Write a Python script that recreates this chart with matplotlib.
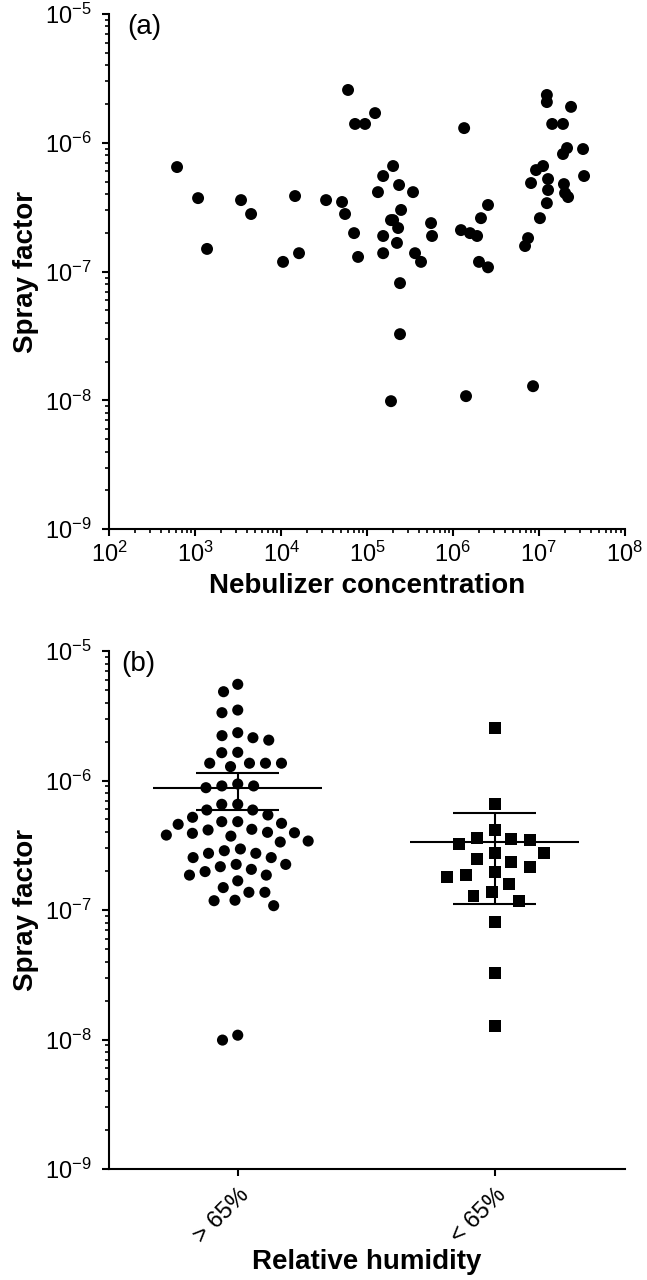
import numpy as np
import matplotlib
matplotlib.use("Agg")
import matplotlib.pyplot as plt
from matplotlib.ticker import LogLocator, NullFormatter

plt.rcParams['font.family'] = ['Liberation Sans', 'DejaVu Sans']
plt.rcParams['mathtext.default'] = 'regular'

# panel (a): nebulizer concentration vs spray factor
nebulizer_conc = [614, 1079, 1372, 3412, 4467, 10520, 14520, 16150, 33340, 51170,
                  55450, 60100, 70600, 72500, 78600, 94800, 1.24e5, 1.34e5, 1.54e5, 1.54e5,
                  1.54e5, 2.01e5, 2.36e5, 1.90e5, 2.01e5, 2.30e5, 2.49e5, 2.23e5, 2.42e5, 2.42e5,
                  1.90e5, 3.43e5, 3.62e5, 4.25e5, 5.56e5, 5.71e5, 1.24e6, 1.35e6, 1.42e6, 1.58e6,
                  1.91e6, 2.12e6, 2.56e6, 2.01e6, 2.56e6, 6.91e6, 7.49e6, 8.56e6, 1.03e7, 8.11e6,
                  9.27e6, 1.12e7, 1.28e7, 1.28e7, 1.24e7, 1.24e7, 1.24e7, 1.43e7, 1.91e7, 2.37e7,
                  2.13e7, 1.91e7, 3.27e7, 3.36e7, 1.96e7, 2.02e7, 2.19e7]
spray_a = [6.48e-7, 3.72e-7, 1.50e-7, 3.59e-7, 2.80e-7, 1.19e-7, 3.86e-7, 1.39e-7, 3.59e-7, 3.47e-7,
           2.80e-7, 2.57e-6, 1.99e-7, 1.40e-6, 1.30e-7, 1.40e-6, 1.70e-6, 4.14e-7, 5.52e-7, 1.89e-7,
           1.39e-7, 6.60e-7, 4.70e-7, 2.51e-7, 2.51e-7, 2.18e-7, 3.01e-7, 1.67e-7, 8.14e-8, 3.27e-8,
           9.87e-9, 4.14e-7, 1.39e-7, 1.19e-7, 2.38e-7, 1.89e-7, 2.10e-7, 1.30e-6, 1.08e-8, 1.99e-7,
           1.89e-7, 2.60e-7, 3.29e-7, 1.19e-7, 1.08e-7, 1.58e-7, 1.82e-7, 1.29e-8, 2.60e-7, 4.87e-7,
           6.14e-7, 6.60e-7, 5.23e-7, 4.30e-7, 3.40e-7, 2.35e-6, 2.07e-6, 1.40e-6, 1.40e-6, 1.90e-6,
           9.10e-7, 8.18e-7, 8.94e-7, 5.52e-7, 4.78e-7, 4.07e-7, 3.79e-7]

# panel (b): spray factor by relative humidity
rh_labels = ['> 65%', '< 65%']
spray_high_rh = [5.53e-6, 4.85e-6, 3.50e-6, 3.34e-6, 2.22e-6, 2.05e-6, 2.14e-6, 2.34e-6, 1.64e-6, 1.65e-6,
                 1.36e-6, 1.36e-6, 1.28e-6, 1.36e-6, 1.36e-6, 9.08e-7, 8.80e-7, 9.08e-7, 9.40e-7, 6.55e-7,
                 5.92e-7, 5.42e-7, 5.92e-7, 6.55e-7, 4.81e-7, 4.59e-7, 4.20e-7, 3.98e-7, 3.79e-7, 3.72e-7,
                 3.41e-7, 3.91e-7, 3.35e-7, 3.95e-7, 4.15e-7, 4.67e-7, 4.81e-7, 5.20e-7, 2.96e-7, 2.74e-7,
                 2.54e-7, 2.25e-7, 2.54e-7, 2.74e-7, 2.87e-7, 2.25e-7, 2.06e-7, 1.86e-7, 1.68e-7, 1.86e-7,
                 1.98e-7, 2.16e-7, 1.49e-7, 1.37e-7, 1.19e-7, 1.08e-7, 1.18e-7, 1.37e-7, 9.9e-9, 1.08e-8]
spray_low_rh = [2.53e-6, 6.59e-7, 4.15e-7, 3.53e-7, 3.47e-7, 3.24e-7, 3.58e-7, 2.77e-7, 2.77e-7, 2.46e-7,
                2.36e-7, 2.16e-7, 1.79e-7, 1.86e-7, 1.95e-7, 1.58e-7, 1.37e-7, 1.18e-7, 1.29e-7, 8.13e-8,
                3.24e-8, 1.28e-8]
rh_mean = [8.80e-7, 3.37e-7]
rh_err_low = [5.92e-7, 1.107e-7]
rh_err_high = [1.137e-6, 5.64e-7]

conc_ticks = [1e2, 1e3, 1e4, 1e5, 1e6, 1e7, 1e8]
spray_ticks = [1e-9, 1e-8, 1e-7, 1e-6, 1e-5]

LW = 1.5


def style_axis(ax):
    for s in ['top', 'right']:
        ax.spines[s].set_visible(False)
    for s in ['left', 'bottom']:
        ax.spines[s].set_linewidth(LW)
    ax.tick_params(which='major', length=5, width=LW, labelsize=17)
    ax.tick_params(which='minor', length=3, width=1.2)
    ax.tick_params(axis='y', which='major', pad=8)
    ax.tick_params(axis='x', which='major', pad=4)


def log_axis(axis, ticks):
    axis.set_ticks(ticks)
    axis.set_minor_locator(LogLocator(base=10, subs=np.arange(2, 10), numticks=100))
    axis.set_minor_formatter(NullFormatter())


def swarm_x(values, ax, center, diam):
    # beeswarm layout in pixel space: each point goes as close to the centre as it can
    vals = np.asarray(values)
    pix = ax.transData.transform(np.column_stack([np.full(len(vals), center), vals]))
    x0 = pix[0, 0]
    ys = pix[:, 1]
    px, py = [], []
    offs = np.zeros(len(vals))
    for i in np.argsort(-ys):
        y = ys[i]
        cands = [0.0]
        for a, b in zip(px, py):
            dy = abs(y - b)
            if dy < diam:
                dx = np.sqrt(diam ** 2 - dy ** 2)
                cands += [a - dx, a + dx]
        cands.sort(key=abs)
        for c in cands:
            if all((c - a) ** 2 + (y - b) ** 2 >= diam ** 2 - 1e-6 for a, b in zip(px, py)):
                break
        px.append(c)
        py.append(y)
        offs[i] = c
    back = ax.transData.inverted().transform(np.column_stack([x0 + offs, ys]))
    return back[:, 0]


fig = plt.figure(figsize=(6.47, 12.8), dpi=100)

# ---- (a)
ax1 = fig.add_axes([0.169, 0.5865, 0.7966, 0.4026])
ax1.scatter(nebulizer_conc, spray_a, s=8.6 ** 2, color='black', edgecolors='none', zorder=3)
ax1.set_xscale('log')
ax1.set_yscale('log')
log_axis(ax1.xaxis, conc_ticks)
log_axis(ax1.yaxis, spray_ticks)
ax1.set_xlim(1e2, 1e8)
ax1.set_ylim(1e-9, 1e-5)
style_axis(ax1)
ax1.set_xlabel('Nebulizer concentration', fontsize=20, fontweight='bold', labelpad=4)
ax1.set_ylabel('Spray factor', fontsize=20, fontweight='bold', labelpad=4)
ax1.text(0.034, 1.0, '(a)', transform=ax1.transAxes, fontsize=20, va='top', ha='left')

# ---- (b)
ax2 = fig.add_axes([0.169, 0.0867, 0.7966, 0.4047])
ax2.set_yscale('log')
log_axis(ax2.yaxis, spray_ticks)
ax2.set_ylim(1e-9, 1e-5)
ax2.set_xlim(-0.5, 1.507)

x_hi = swarm_x(spray_high_rh, ax2, 0, 16.0)
x_lo = swarm_x(spray_low_rh, ax2, 1, 19.0)
ax2.scatter(x_hi, spray_high_rh, s=8 ** 2, marker='o', color='black', edgecolors='none', zorder=3)
ax2.scatter(x_lo, spray_low_rh, s=8.6 ** 2, marker='s', color='black', edgecolors='none', zorder=3)

for i in range(2):
    ax2.hlines(rh_mean[i], i - 0.33, i + 0.33, color='black', lw=LW, zorder=4)
    ax2.vlines(i, rh_err_low[i], rh_err_high[i], color='black', lw=LW, zorder=4)
    ax2.hlines([rh_err_low[i], rh_err_high[i]], i - 0.162, i + 0.162, color='black', lw=LW, zorder=4)

ax2.set_xticks([0, 1])
ax2.set_xticklabels(rh_labels, rotation=45, ha='right', rotation_mode='anchor')
style_axis(ax2)
ax2.tick_params(axis='x', pad=6)
ax2.set_xlabel('Relative humidity', fontsize=20, fontweight='bold', labelpad=1)
ax2.set_ylabel('Spray factor', fontsize=20, fontweight='bold', labelpad=4)
ax2.text(0.024, 1.0, '(b)', transform=ax2.transAxes, fontsize=20, va='top', ha='left')

fig.savefig('out.png', dpi=100)
